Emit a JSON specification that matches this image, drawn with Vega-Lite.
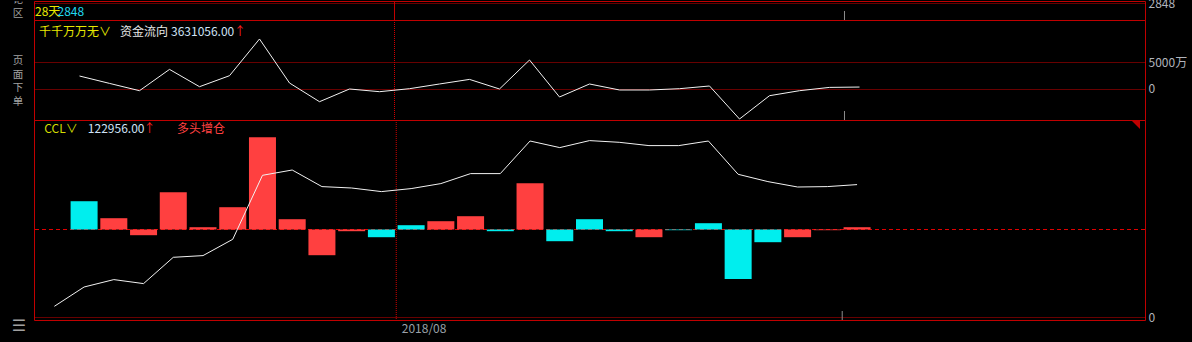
{
  "$schema": "https://vega.github.io/schema/vega-lite/v6.json",
  "background": "#000000",
  "padding": {"left": 0, "top": -4, "right": 47, "bottom": 0},
  "autosize": {"type": "pad"},
  "config": {
    "font": "Noto Sans CJK SC",
    "view": {"stroke": "#c00000", "strokeWidth": 1},
    "axis": {"labelFont": "Noto Sans CJK SC", "labelFontSize": 12, "labelColor": "#b0b4bc", "domain": false, "ticks": false},
    "text": {"font": "Noto Sans CJK SC", "fontSize": 12}
  },
  "datasets": {
    "d": [
      {"i": 0, "zj": null, "ccl": 9937, "chg": null, "type": null},
      {"i": 1, "zj": 2407, "ccl": 27861, "chg": 18100, "type": "空头增仓"},
      {"i": 2, "zj": 1037, "ccl": 34733, "chg": 7230, "type": "多头增仓"},
      {"i": 3, "zj": -315, "ccl": 31019, "chg": -3650, "type": "空头减仓"},
      {"i": 4, "zj": 3630, "ccl": 55443, "chg": 23870, "type": "多头增仓"},
      {"i": 5, "zj": 426, "ccl": 57022, "chg": 1470, "type": "多头增仓"},
      {"i": 6, "zj": 2463, "ccl": 72160, "chg": 14270, "type": "多头增仓"},
      {"i": 7, "zj": 9260, "ccl": 131597, "chg": 59070, "type": "多头增仓"},
      {"i": 8, "zj": 1111, "ccl": 136519, "chg": 6590, "type": "多头增仓"},
      {"i": 9, "zj": -2352, "ccl": 121102, "chg": -16450, "type": "空头减仓"},
      {"i": 10, "zj": 0, "ccl": 119802, "chg": -1090, "type": "空头减仓"},
      {"i": 11, "zj": -500, "ccl": 116459, "chg": -4930, "type": "多头减仓"},
      {"i": 12, "zj": 56, "ccl": 119245, "chg": 2750, "type": "空头增仓"},
      {"i": 13, "zj": 926, "ccl": 123889, "chg": 5310, "type": "多头增仓"},
      {"i": 14, "zj": 1778, "ccl": 133176, "chg": 8510, "type": "多头增仓"},
      {"i": 15, "zj": 0, "ccl": 133176, "chg": -1090, "type": "多头减仓"},
      {"i": 16, "zj": 5370, "ccl": 163451, "chg": 29630, "type": "多头增仓"},
      {"i": 17, "zj": -1481, "ccl": 157322, "chg": -7490, "type": "多头减仓"},
      {"i": 18, "zj": 926, "ccl": 163823, "chg": 6590, "type": "空头增仓"},
      {"i": 19, "zj": -185, "ccl": 162243, "chg": -1090, "type": "多头减仓"},
      {"i": 20, "zj": -185, "ccl": 159180, "chg": -4930, "type": "空头减仓"},
      {"i": 21, "zj": 56, "ccl": 159180, "chg": -450, "type": "多头减仓"},
      {"i": 22, "zj": 556, "ccl": 163451, "chg": 4030, "type": "空头增仓"},
      {"i": 23, "zj": -5556, "ccl": 132527, "chg": -31620, "type": "多头减仓"},
      {"i": 24, "zj": -1240, "ccl": 125746, "chg": -8130, "type": "多头减仓"},
      {"i": 25, "zj": -315, "ccl": 120731, "chg": -4930, "type": "空头减仓"},
      {"i": 26, "zj": 296, "ccl": 121102, "chg": -450, "type": "空头减仓"},
      {"i": 27, "zj": 363.1056, "ccl": 122956, "chg": 1470, "type": "多头增仓"}
    ]
  },
  "spacing": 3,
  "bounds": "flush",
  "hconcat": [
    {
      "width": 31,
      "height": 342,
      "view": {"stroke": null},
      "data": {"values": [{}]},
      "layer": [
        {
          "mark": {"type": "text", "text": ["论", "区"], "fontSize": 10.5, "lineHeight": 13.5, "baseline": "top", "color": "#a0a0a0", "clip": true},
          "encoding": {
            "x": {"datum": 18, "type": "quantitative", "scale": {"domain": [0, 31], "nice": false, "zero": false}, "axis": null},
            "y": {"datum": -6, "type": "quantitative", "scale": {"domain": [0, 342], "reverse": true, "nice": false, "zero": false}, "axis": null}
          }
        },
        {
          "mark": {"type": "text", "text": ["页", "面", "下", "单"], "fontSize": 10.5, "lineHeight": 13.5, "baseline": "top", "color": "#a0a0a0", "clip": true},
          "encoding": {
            "x": {"datum": 18, "type": "quantitative", "scale": {"domain": [0, 31], "nice": false, "zero": false}, "axis": null},
            "y": {"datum": 55, "type": "quantitative", "scale": {"domain": [0, 342], "reverse": true, "nice": false, "zero": false}, "axis": null}
          }
        },
        {
          "mark": {"type": "text", "text": "☰", "fontSize": 16, "font": "DejaVu Sans", "baseline": "middle", "color": "#a0a0a0"},
          "encoding": {
            "x": {"datum": 19, "type": "quantitative", "scale": {"domain": [0, 31], "nice": false, "zero": false}, "axis": null},
            "y": {"datum": 325, "type": "quantitative", "scale": {"domain": [0, 342], "reverse": true, "nice": false, "zero": false}, "axis": null}
          }
        }
      ]
    },
    {
      "spacing": 0,
      "bounds": "flush",
      "vconcat": [
        {
          "width": 1111,
          "height": 19,
          "data": {"values": [{}]},
          "layer": [
            {
              "mark": {"type": "rule", "color": "#c00000", "strokeWidth": 1},
              "encoding": {
                "x": {"datum": 11.5, "type": "quantitative", "scale": {"domain": [-0.5167, 36.5167], "nice": false, "zero": false}, "axis": null}
              }
            },
            {
              "mark": {"type": "rule", "color": "#8c8c8c", "strokeWidth": 1},
              "encoding": {
                "x": {"datum": 26.5, "type": "quantitative", "scale": {"domain": [-0.5167, 36.5167], "nice": false, "zero": false}, "axis": null},
                "y": {"datum": 2836, "type": "quantitative", "scale": {"domain": [2836, 2849.5], "nice": false, "zero": false},
                  "axis": {"orient": "right", "values": [2848], "format": "d", "title": null, "grid": true, "gridColor": "#d00000", "gridDash": [1, 1], "labelPadding": 3}},
                "y2": {"datum": 2842.4}
              }
            },
            {
              "mark": {"type": "text", "text": "28天", "align": "left", "baseline": "middle", "color": "#e8e800"},
              "encoding": {
                "x": {"datum": -0.483, "type": "quantitative", "scale": {"domain": [-0.5167, 36.5167], "nice": false, "zero": false}, "axis": null},
                "y": {"datum": 2841.7, "type": "quantitative", "scale": {"domain": [2836, 2849.5], "nice": false, "zero": false}}
              }
            },
            {
              "mark": {"type": "text", "text": "2848", "align": "left", "baseline": "middle", "color": "#20d8f0"},
              "encoding": {
                "x": {"datum": 0.267, "type": "quantitative", "scale": {"domain": [-0.5167, 36.5167], "nice": false, "zero": false}, "axis": null},
                "y": {"datum": 2841.7, "type": "quantitative", "scale": {"domain": [2836, 2849.5], "nice": false, "zero": false}}
              }
            }
          ]
        },
        {
          "width": 1111,
          "height": 100,
          "layer": [
            {
              "data": {"values": [{}]},
              "mark": {"type": "rule", "color": "#d00000", "strokeWidth": 1, "strokeDash": [1, 1]},
              "encoding": {
                "x": {"datum": 11.5, "type": "quantitative", "scale": {"domain": [-0.5167, 36.5167], "nice": false, "zero": false}, "axis": null}
              }
            },
            {
              "data": {"values": [{}]},
              "mark": {"type": "rule", "color": "#8c8c8c", "strokeWidth": 1},
              "encoding": {
                "x": {"datum": 26.5, "type": "quantitative", "scale": {"domain": [-0.5167, 36.5167], "nice": false, "zero": false}, "axis": null},
                "y": {"datum": -5741, "type": "quantitative", "scale": {"domain": [-5741, 12778], "nice": false, "zero": false},
                  "axis": {"orient": "right", "values": [0, 5000], "labelExpr": "datum.value == 0 ? '0' : datum.value + '万'", "title": null, "grid": true, "gridColor": "#d00000", "gridDash": [1, 1], "labelPadding": 3}},
                "y2": {"datum": -4074}
              }
            },
            {
              "data": {"name": "d"},
              "mark": {"type": "line", "color": "#f2f2f2", "strokeWidth": 1},
              "encoding": {
                "x": {"field": "i", "type": "quantitative", "scale": {"domain": [-0.5167, 36.5167], "nice": false, "zero": false}, "axis": null},
                "y": {"field": "zj", "type": "quantitative", "scale": {"domain": [-5741, 12778], "nice": false, "zero": false}}
              }
            },
            {
              "data": {"values": [{}]},
              "mark": {"type": "text", "text": "千千万万无∨", "align": "left", "baseline": "middle", "color": "#e8e800"},
              "encoding": {
                "x": {"datum": -0.35, "type": "quantitative", "scale": {"domain": [-0.5167, 36.5167], "nice": false, "zero": false}, "axis": null},
                "y": {"datum": 10648, "type": "quantitative", "scale": {"domain": [-5741, 12778], "nice": false, "zero": false}}
              }
            },
            {
              "data": {"values": [{}]},
              "mark": {"type": "text", "text": "资金流向", "align": "left", "baseline": "middle", "color": "#e8e8e8"},
              "encoding": {
                "x": {"datum": 2.35, "type": "quantitative", "scale": {"domain": [-0.5167, 36.5167], "nice": false, "zero": false}, "axis": null},
                "y": {"datum": 10648, "type": "quantitative", "scale": {"domain": [-5741, 12778], "nice": false, "zero": false}}
              }
            },
            {
              "data": {"values": [{}]},
              "mark": {"type": "text", "text": "3631056.00", "align": "left", "baseline": "middle", "color": "#cfe2f6"},
              "encoding": {
                "x": {"datum": 4.05, "type": "quantitative", "scale": {"domain": [-0.5167, 36.5167], "nice": false, "zero": false}, "axis": null},
                "y": {"datum": 10648, "type": "quantitative", "scale": {"domain": [-5741, 12778], "nice": false, "zero": false}}
              }
            },
            {
              "data": {"values": [{}]},
              "mark": {"type": "text", "text": "↑", "align": "left", "baseline": "middle", "color": "#ff2020"},
              "encoding": {
                "x": {"datum": 6.15, "type": "quantitative", "scale": {"domain": [-0.5167, 36.5167], "nice": false, "zero": false}, "axis": null},
                "y": {"datum": 10648, "type": "quantitative", "scale": {"domain": [-5741, 12778], "nice": false, "zero": false}}
              }
            }
          ]
        },
        {
          "width": 1111,
          "height": 200,
          "resolve": {"scale": {"y": "independent"}},
          "layer": [
            {
              "layer": [
                {
                  "data": {"values": [{}]},
                  "mark": {"type": "rule", "stroke": "#e00000", "strokeWidth": 1, "strokeDash": [4, 3]},
                  "encoding": {
                    "y": {"datum": 0, "type": "quantitative", "scale": {"domain": [-57920, 70080], "nice": false, "zero": false}, "axis": null}
                  }
                },
                {
                  "data": {"name": "d"},
                  "mark": {"type": "bar", "width": 27},
                  "encoding": {
                    "x": {"field": "i", "type": "quantitative", "scale": {"domain": [-0.5167, 36.5167], "nice": false, "zero": false},
                      "axis": {"values": [11.5], "labelExpr": "'2018/08'", "labelAlign": "left", "labelOffset": 5, "labelPadding": 3, "labelBaseline": "top", "labelColor": "#9aa0a8", "labelFlush": false, "labelOverlap": false, "title": null, "grid": false}},
                    "y": {"field": "chg", "type": "quantitative", "scale": {"domain": [-57920, 70080], "nice": false, "zero": false}, "axis": null},
                    "color": {"field": "type", "type": "nominal", "scale": {"domain": ["多头增仓", "空头减仓", "空头增仓", "多头减仓"], "range": ["#ff4040", "#ff4040", "#00eeee", "#00eeee"]}, "legend": null}
                  }
                }
              ]
            },
            {
              "layer": [
                {
                  "data": {"values": [{}]},
                  "mark": {"type": "rule", "color": "#d00000", "strokeWidth": 1, "strokeDash": [1, 1]},
                  "encoding": {
                    "x": {"datum": 11.5, "type": "quantitative", "scale": {"domain": [-0.5167, 36.5167], "nice": false, "zero": false}}
                  }
                },
                {
                  "data": {"values": [{}]},
                  "mark": {"type": "rule", "color": "#8c8c8c", "strokeWidth": 1},
                  "encoding": {
                    "x": {"datum": 26.5, "type": "quantitative", "scale": {"domain": [-0.5167, 36.5167], "nice": false, "zero": false}},
                    "y": {"datum": -2786, "type": "quantitative", "scale": {"domain": [-2786, 182954], "nice": false, "zero": false},
                      "axis": {"orient": "right", "values": [0], "title": null, "grid": true, "gridColor": "#d00000", "gridDash": [1, 1], "labelPadding": 3}},
                    "y2": {"datum": 5572}
                  }
                },
                {
                  "data": {"name": "d"},
                  "mark": {"type": "line", "color": "#f2f2f2", "strokeWidth": 1},
                  "encoding": {
                    "x": {"field": "i", "type": "quantitative", "scale": {"domain": [-0.5167, 36.5167], "nice": false, "zero": false}},
                    "y": {"field": "ccl", "type": "quantitative", "scale": {"domain": [-2786, 182954], "nice": false, "zero": false}}
                  }
                },
                {
                  "data": {"values": [{}]},
                  "mark": {"type": "text", "text": "CCL∨", "align": "left", "baseline": "middle", "color": "#d4dc00"},
                  "encoding": {
                    "x": {"datum": -0.34, "type": "quantitative", "scale": {"domain": [-0.5167, 36.5167], "nice": false, "zero": false}},
                    "y": {"datum": 174317, "type": "quantitative", "scale": {"domain": [-2786, 182954], "nice": false, "zero": false}}
                  }
                },
                {
                  "data": {"values": [{}]},
                  "mark": {"type": "text", "text": "122956.00", "align": "left", "baseline": "middle", "color": "#cfe2f6"},
                  "encoding": {
                    "x": {"datum": 1.127, "type": "quantitative", "scale": {"domain": [-0.5167, 36.5167], "nice": false, "zero": false}},
                    "y": {"datum": 174317, "type": "quantitative", "scale": {"domain": [-2786, 182954], "nice": false, "zero": false}}
                  }
                },
                {
                  "data": {"values": [{}]},
                  "mark": {"type": "text", "text": "↑", "align": "left", "baseline": "middle", "color": "#ff2020"},
                  "encoding": {
                    "x": {"datum": 3.0, "type": "quantitative", "scale": {"domain": [-0.5167, 36.5167], "nice": false, "zero": false}},
                    "y": {"datum": 174317, "type": "quantitative", "scale": {"domain": [-2786, 182954], "nice": false, "zero": false}}
                  }
                },
                {
                  "data": {"values": [{}]},
                  "mark": {"type": "text", "text": "多头增仓", "align": "left", "baseline": "middle", "color": "#ff4040"},
                  "encoding": {
                    "x": {"datum": 4.127, "type": "quantitative", "scale": {"domain": [-0.5167, 36.5167], "nice": false, "zero": false}},
                    "y": {"datum": 174317, "type": "quantitative", "scale": {"domain": [-2786, 182954], "nice": false, "zero": false}}
                  }
                },
                {
                  "data": {"values": [{}]},
                  "mark": {"type": "point", "shape": "M -1 0 L 0 0 L 0 1 Z", "filled": true, "size": 324, "color": "#c00000", "opacity": 1},
                  "encoding": {
                    "x": {"datum": 36.5167, "type": "quantitative", "scale": {"domain": [-0.5167, 36.5167], "nice": false, "zero": false}},
                    "y": {"datum": 182954, "type": "quantitative", "scale": {"domain": [-2786, 182954], "nice": false, "zero": false}}
                  }
                }
              ]
            }
          ]
        }
      ]
    }
  ]
}
